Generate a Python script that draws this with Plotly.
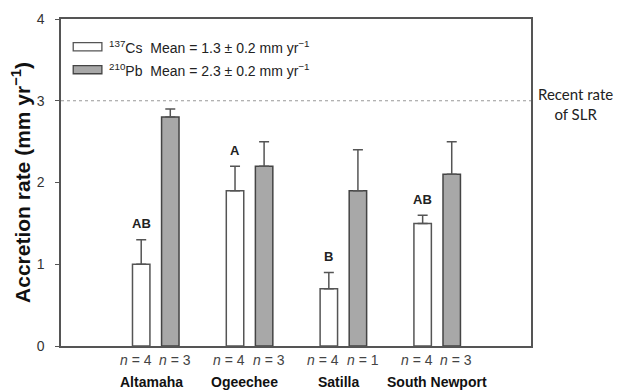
import plotly.graph_objects as go

sites = ["Altamaha", "Ogeechee", "Satilla", "South Newport"]
cs_mean = [1.0, 1.9, 0.7, 1.5]
cs_err = [0.3, 0.3, 0.2, 0.1]
pb_mean = [2.8, 2.2, 1.9, 2.1]
pb_err = [0.1, 0.3, 0.5, 0.4]
cs_n = [4, 4, 4, 4]
pb_n = [3, 3, 1, 3]
letters = ["AB", "A", "B", "AB"]
slr_rate = 3.0
y_ticks = [0, 1, 2, 3, 4]

FONT = "Liberation Sans, Arial, sans-serif"
LINE = "#555555"
OFF = 0.155
pos = list(range(len(sites)))

fig = go.Figure()
fig.add_trace(go.Bar(
    x=pos, y=cs_mean, name="137Cs",
    marker=dict(color="white", line=dict(color=LINE, width=1.5)),
    error_y=dict(type="data", symmetric=False, array=cs_err, arrayminus=[0]*4,
                 color=LINE, thickness=1.5, width=5),
))
fig.add_trace(go.Bar(
    x=pos, y=pb_mean, name="210Pb",
    marker=dict(color="#a8a8a8", line=dict(color="#444444", width=1.5)),
    error_y=dict(type="data", symmetric=False, array=pb_err, arrayminus=[0]*4,
                 color=LINE, thickness=1.5, width=5),
))

shapes = [dict(type="line", xref="paper", yref="y", x0=0, x1=1, y0=slr_rate, y1=slr_rate,
               line=dict(color="#999999", width=1.2, dash="dot"))]
anns = [dict(xref="paper", yref="y", x=1.01, y=slr_rate, xanchor="left", yanchor="middle",
             yshift=-3, text="Recent rate<br>of SLR", showarrow=False, align="center",
             font=dict(family="Lato, Open Sans, sans-serif", size=15, color="#222"))]

for i, s in enumerate(sites):
    anns.append(dict(x=pos[i] - OFF, y=cs_mean[i] + cs_err[i] + 0.08, xref="x", yref="y",
                     text=f"<b>{letters[i]}</b>", showarrow=False, yanchor="bottom",
                     font=dict(family=FONT, size=13, color="#222")))
    anns.append(dict(x=pos[i] - OFF - 0.06, y=0, xref="x", yref="y", yshift=-14,
                     text=f"<i>n</i> = {cs_n[i]}", showarrow=False,
                     font=dict(family=FONT, size=14, color="#444")))
    anns.append(dict(x=pos[i] + OFF + 0.05, y=0, xref="x", yref="y", yshift=-14,
                     text=f"<i>n</i> = {pb_n[i]}", showarrow=False,
                     font=dict(family=FONT, size=14, color="#444")))
    anns.append(dict(x=pos[i] - 0.05 + (0.05 if i == 3 else 0), y=0, xref="x", yref="y", yshift=-36,
                     text=f"<b>{s}</b>", showarrow=False,
                     font=dict(family=FONT, size=14, color="#111")))

# custom legend
leg = [("white", LINE, "<sup>137</sup>Cs  Mean = 1.3 ± 0.2 mm yr<sup>−1</sup>", 3.66),
       ("#a8a8a8", "#444444", "<sup>210</sup>Pb  Mean = 2.3 ± 0.2 mm yr<sup>−1</sup>", 3.38)]
for fill, lc, txt, yy in leg:
    shapes.append(dict(type="rect", xref="paper", yref="y", x0=0.026, x1=0.087, y0=yy - 0.05, y1=yy + 0.05,
                       fillcolor=fill, line=dict(color=lc, width=1.3)))
    anns.append(dict(xref="paper", yref="y", x=0.097, y=yy, xanchor="left", yanchor="middle",
                     text=txt, showarrow=False, font=dict(family=FONT, size=14, color="#222")))

fig.update_layout(
    width=618, height=391,
    margin=dict(l=61, r=87, t=19, b=45),
    paper_bgcolor="white", plot_bgcolor="white",
    barmode="group", bargap=0.38, bargroupgap=0.4,
    showlegend=False,
    annotations=anns,
    shapes=shapes,
    font=dict(family=FONT, color="#333"),
)
fig.update_xaxes(type="linear", range=[-1.01, 4.0], showticklabels=False, ticks="",
                 showline=True, mirror=True, linecolor=LINE, linewidth=1.5, showgrid=False, zeroline=False)
fig.update_yaxes(range=[0, 4], tickvals=y_ticks, ticks="outside", ticklen=4, tickcolor=LINE,
                 ticklabelstandoff=8,
                 tickfont=dict(family=FONT, size=14, color="#333"),
                 showline=True, mirror=True, linecolor=LINE, linewidth=1.5, showgrid=False, zeroline=False,
                 title=dict(text="<b>Accretion rate (mm yr<sup>−1</sup>)</b>", standoff=0,
                            font=dict(family=FONT, size=21, color="#111")))

fig.write_html("out.html", config={"displayModeBar": False},
               post_script="document.body.style.margin='0';")
